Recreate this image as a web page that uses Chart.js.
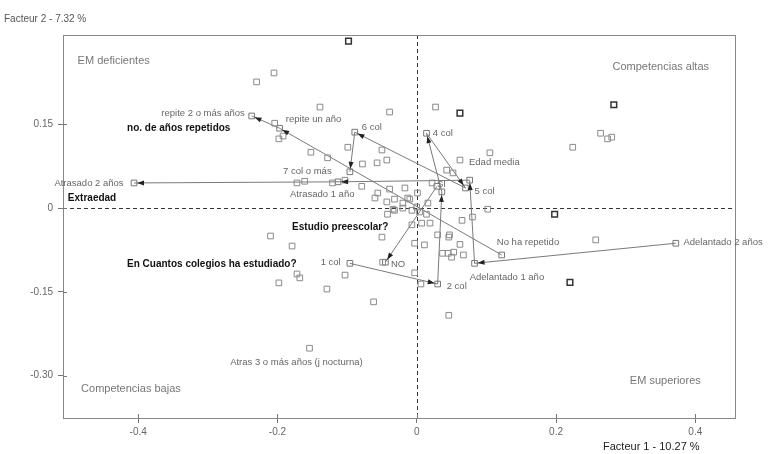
<!DOCTYPE html>
<html>
<head>
<meta charset="utf-8">
<script src="https://cdn.jsdelivr.net/npm/chart.js@4"></script>
<style>
  body { margin: 0; background: #fff; }
  #wrap { width: 775px; height: 454px; }
</style>
</head>
<body>
<div id="wrap"><canvas id="acmChart" width="775" height="454"></canvas></div>
<script>
// axis ticks
const xTicks = [-0.4, -0.2, 0, 0.2, 0.4];
const xTickLabels = ['-0.4', '-0.2', '0', '0.2', '0.4'];
const yTicks = [0.15, 0, -0.15, -0.30];
const yTickLabels = ['0.15', '0', '-0.15', '-0.30'];

// trajectories of the ordinal categories (arrow goes from one category to the next)
const colegioCats = ['1 col', '2 col', '3 col', '4 col', '5 col', '6 col', '7 col o más'];
const colegioX = [-0.096, 0.030, 0.036, 0.014, 0.070, -0.089, -0.096];
const colegioY = [-0.099, -0.136, 0.029, 0.134, 0.036, 0.136, 0.065];

const repetidoCats = ['No ha repetido', 'repite un año', 'repite 2 o más años'];
const repetidoX = [0.122, -0.197, -0.237];
const repetidoY = [-0.084, 0.143, 0.165];

const edadCats = ['Adelantado 2 años', 'Adelantado 1 año', 'Edad media', 'Atrasado 1 año', 'Atrasado 2 años'];
const edadX = [0.372, 0.083, 0.076, -0.113, -0.406];
const edadY = [-0.063, -0.099, 0.050, 0.047, 0.045];

const preescolarCats = ['SI', 'NO'];
const preescolarX = [0.029, -0.045];
const preescolarY = [0.039, -0.097];

// other modalities (squares without arrows)
const otherX = [-0.154, -0.230, -0.205, -0.204, -0.192, -0.198, -0.152, -0.139, -0.128, -0.099, -0.078, -0.057, -0.043, -0.050, -0.039,
  -0.172, -0.161, -0.121, -0.103, -0.079, -0.056, -0.039, -0.032, -0.043, -0.017, -0.013, -0.020, -0.034,
  0.027, 0.105, 0.062, 0.043, 0.052, 0.102, 0.065, 0.080, 0.022, -0.060, -0.020, -0.010, 0.001, 0.016, 0.000,
  0.004, -0.007, 0.014, -0.032, -0.042, -0.007, 0.007, 0.019, -0.050, 0.030, 0.047,
  0.264, 0.274, 0.280, 0.224, 0.257, -0.210, -0.179, -0.198, -0.172, -0.168, -0.129, -0.103, -0.062,
  -0.003, 0.011, 0.046, 0.062, 0.037, 0.045, 0.053, 0.050, 0.067, -0.003, 0.006, 0.046, -0.049];
const otherY = [-0.251, 0.226, 0.242, 0.152, 0.129, 0.124, 0.100, 0.181, 0.090, 0.109, 0.079, 0.081, 0.086, 0.104, 0.172,
  0.045, 0.048, 0.045, 0.050, 0.039, 0.027, 0.034, 0.016, 0.011, 0.036, 0.018, 0.000, -0.002,
  0.181, 0.099, 0.086, 0.068, 0.063, -0.002, -0.022, -0.016, 0.045, 0.018, 0.009, 0.016, 0.027, 0.009, 0.002,
  -0.007, -0.004, -0.011, -0.004, -0.011, -0.030, -0.027, -0.027, -0.052, -0.048, -0.048,
  0.134, 0.124, 0.127, 0.109, -0.057, -0.050, -0.068, -0.134, -0.118, -0.125, -0.145, -0.120, -0.168,
  -0.063, -0.066, -0.052, -0.065, -0.081, -0.081, -0.079, -0.088, -0.084, -0.116, -0.136, -0.192, -0.097];
const darkX = [-0.098, 0.283, 0.198, 0.220, 0.062];
const darkY = [0.299, 0.185, -0.011, -0.133, 0.170];

// texts placed in data units
const catLabels = ['repite 2 o más años', 'repite un año', '6 col', '4 col', 'Edad media', '5 col', 'SI', '7 col o más',
  'Atrasado 2 años', 'Atrasado 1 año', 'No ha repetido', 'Adelantado 2 años', 'Adelantado 1 año', '2 col', 'NO', '1 col',
  'Atras 3 o más años (j nocturna)'];
const catLabelX = [-0.247, -0.188, -0.079, 0.023, 0.075, 0.083, 0.029, -0.192, -0.421, -0.182, 0.115, 0.383, 0.076, 0.043, -0.037, -0.138, -0.268];
const catLabelY = [0.170, 0.159, 0.145, 0.133, 0.081, 0.030, 0.043, 0.065, 0.045, 0.025, -0.061, -0.061, -0.124, -0.140, -0.100, -0.097, -0.276];
const catLabelRight = ['repite 2 o más años', 'Atrasado 2 años'];

const varLabels = ['no. de años repetidos', 'Extraedad', 'Estudio preescolar?', 'En Cuantos colegios ha estudiado?'];
const varLabelX = [-0.416, -0.501, -0.179, -0.416];
const varLabelY = [0.143, 0.018, -0.034, -0.100];

const zoneLabels = ['EM deficientes', 'Competencias altas', 'Competencias bajas', 'EM superiores'];
const zoneLabelX = [-0.487, 0.281, -0.482, 0.306];
const zoneLabelY = [0.263, 0.253, -0.324, -0.310];

const toPts = (xs, ys) => xs.map((x, i) => ({ x: x, y: ys[i] }));

const trajStyle = {
  showLine: true,
  borderColor: '#7a7a7a',
  borderWidth: 1,
  pointStyle: 'rect',
  pointRadius: 4,
  pointBorderWidth: 1,
  pointBorderColor: '#777',
  pointBackgroundColor: 'rgba(255,255,255,0)',
  arrows: true
};

// dashed zero lines, frame, texts and arrowheads
const acmPlugin = {
  id: 'acmDecor',
  beforeDatasetsDraw(chart) {
    const { ctx, chartArea: a, scales } = chart;
    const x0 = scales.x.getPixelForValue(0);
    const y0 = scales.y.getPixelForValue(0);
    ctx.save();
    ctx.strokeStyle = '#333';
    ctx.lineWidth = 1;
    ctx.setLineDash([4, 3]);
    ctx.beginPath();
    ctx.moveTo(Math.round(x0) + 0.5, a.top);
    ctx.lineTo(Math.round(x0) + 0.5, a.bottom);
    ctx.moveTo(a.left, Math.round(y0) + 0.5);
    ctx.lineTo(a.right, Math.round(y0) + 0.5);
    ctx.stroke();
    ctx.setLineDash([]);
    ctx.strokeStyle = '#888';
    ctx.strokeRect(a.left + 0.5, a.top + 0.5, a.right - a.left, a.bottom - a.top);
    // inward half of the tick crosses
    ctx.strokeStyle = '#777';
    ctx.beginPath();
    xTicks.forEach(v => {
      const px = Math.round(scales.x.getPixelForValue(v)) + 0.5;
      ctx.moveTo(px, a.bottom);
      ctx.lineTo(px, a.bottom - 4);
    });
    yTicks.forEach(v => {
      const py = Math.round(scales.y.getPixelForValue(v)) + 0.5;
      ctx.moveTo(a.left, py);
      ctx.lineTo(a.left + 4, py);
    });
    ctx.stroke();
    ctx.restore();
  },
  afterDatasetsDraw(chart) {
    const { ctx, scales } = chart;
    ctx.save();
    // arrowheads
    chart.data.datasets.forEach((ds, di) => {
      if (!ds.arrows) return;
      const pts = chart.getDatasetMeta(di).data;
      for (let i = 1; i < pts.length; i++) {
        const p0 = pts[i - 1], p1 = pts[i];
        const ang = Math.atan2(p1.y - p0.y, p1.x - p0.x);
        const tx = p1.x - Math.cos(ang) * 3, ty = p1.y - Math.sin(ang) * 3;
        ctx.fillStyle = '#222';
        ctx.beginPath();
        ctx.moveTo(tx, ty);
        ctx.lineTo(tx - Math.cos(ang) * 7 - Math.sin(ang) * 2.5, ty - Math.sin(ang) * 7 + Math.cos(ang) * 2.5);
        ctx.lineTo(tx - Math.cos(ang) * 7 + Math.sin(ang) * 2.5, ty - Math.sin(ang) * 7 - Math.cos(ang) * 2.5);
        ctx.closePath();
        ctx.fill();
      }
    });
    ctx.textBaseline = 'middle';
    // category labels
    ctx.font = '9.5px "Liberation Sans", Arial, sans-serif';
    ctx.fillStyle = '#666';
    catLabels.forEach((t, i) => {
      ctx.textAlign = catLabelRight.includes(t) ? 'right' : 'left';
      ctx.fillText(t, scales.x.getPixelForValue(catLabelX[i]), scales.y.getPixelForValue(catLabelY[i]));
    });
    // variable names
    ctx.textAlign = 'left';
    ctx.font = 'bold 10px "Liberation Sans", Arial, sans-serif';
    ctx.fillStyle = '#111';
    varLabels.forEach((t, i) => {
      ctx.fillText(t, scales.x.getPixelForValue(varLabelX[i]), scales.y.getPixelForValue(varLabelY[i]));
    });
    // quadrant names
    ctx.font = '11px "Liberation Sans", Arial, sans-serif';
    ctx.fillStyle = '#777';
    zoneLabels.forEach((t, i) => {
      ctx.fillText(t, scales.x.getPixelForValue(zoneLabelX[i]), scales.y.getPixelForValue(zoneLabelY[i]));
    });
    // axis titles
    ctx.font = '10px "Liberation Sans", Arial, sans-serif';
    ctx.fillStyle = '#555';
    ctx.fillText('Facteur 2 - 7.32 %', 4, 19);
    ctx.font = '11px "Liberation Sans", Arial, sans-serif';
    ctx.fillStyle = '#222';
    ctx.fillText('Facteur 1 - 10.27 %', 603, 447);
    ctx.restore();
  }
};

new Chart(document.getElementById('acmChart'), {
  type: 'scatter',
  data: {
    datasets: [
      { label: 'modalidades', data: toPts(otherX, otherY), pointStyle: 'rect', pointRadius: 4, pointBorderWidth: 1,
        pointBorderColor: '#8a8a8a', pointBackgroundColor: 'rgba(255,255,255,0)' },
      { label: 'modalidades2', data: toPts(darkX, darkY), pointStyle: 'rect', pointRadius: 4, pointBorderWidth: 1.5,
        pointBorderColor: '#333', pointBackgroundColor: 'rgba(255,255,255,0)' },
      Object.assign({ label: 'colegios', data: toPts(colegioX, colegioY) }, trajStyle),
      Object.assign({ label: 'repetidos', data: toPts(repetidoX, repetidoY) }, trajStyle),
      Object.assign({ label: 'extraedad', data: toPts(edadX, edadY) }, trajStyle),
      Object.assign({ label: 'preescolar', data: toPts(preescolarX, preescolarY) }, trajStyle)
    ]
  },
  options: {
    responsive: false,
    animation: false,
    layout: { padding: { top: 35, right: 40, left: 0, bottom: 0 } },
    plugins: { legend: { display: false }, tooltip: { enabled: false } },
    scales: {
      x: {
        min: -0.508, max: 0.457,
        afterBuildTicks: s => { s.ticks = xTicks.map(v => ({ value: v })); },
        afterFit: s => { s.height = 36; },
        grid: { drawOnChartArea: false, tickLength: 5, color: '#777' },
        border: { color: '#888' },
        ticks: { padding: 3, color: '#666', font: { family: 'Liberation Sans', size: 10 },
          callback: (v, i) => xTickLabels[i] }
      },
      y: {
        min: -0.376, max: 0.310,
        afterBuildTicks: s => { s.ticks = yTicks.map(v => ({ value: v })); },
        afterFit: s => { s.width = 63; },
        grid: { drawOnChartArea: false, tickLength: 5, color: '#777' },
        border: { color: '#888' },
        ticks: { padding: 5, color: '#666', font: { family: 'Liberation Sans', size: 10 },
          callback: (v, i) => yTickLabels[i] }
      }
    }
  },
  plugins: [acmPlugin]
});
</script>
</body>
</html>
